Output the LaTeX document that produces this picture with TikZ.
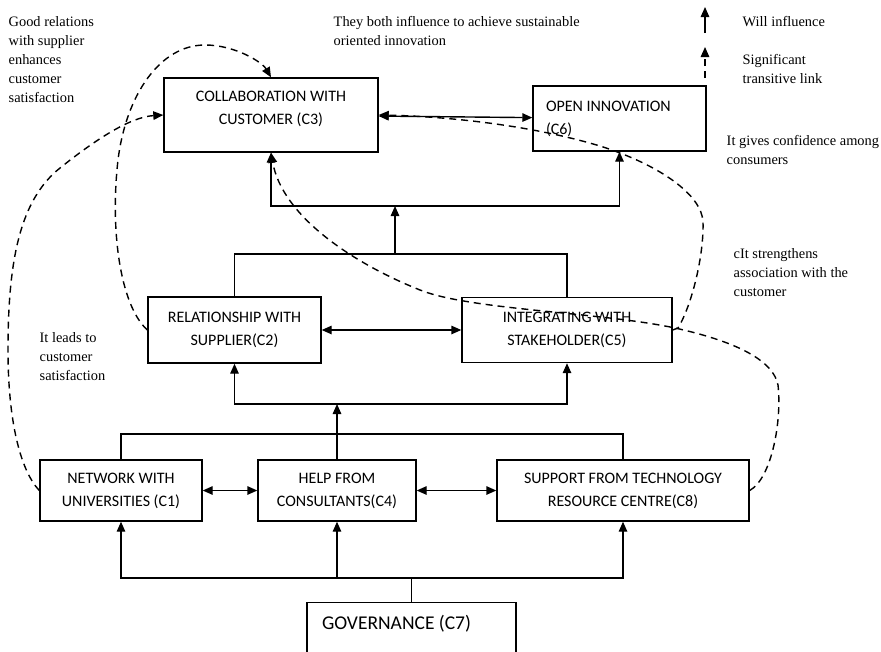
\documentclass[tikz,border=0pt]{standalone}
\usepackage{fontspec}
\setmainfont{Liberation Serif}
\newfontfamily\boxfont{Carlito}
\usetikzlibrary{arrows.meta}

\begin{document}
\begin{tikzpicture}[x=1pt,y=-1pt,line width=1.4pt,
    box/.style={draw,rectangle,inner sep=0pt,align=center,
      font=\boxfont\fontsize{16}{23}\selectfont},
    note/.style={anchor=north west,inner sep=0pt,align=left,
      font=\fontsize{14.4}{19}\selectfont},
    inf/.style={-{Triangle[length=10pt,width=8.5pt]}},
    both/.style={{Triangle[length=10pt,width=8.5pt]}-{Triangle[length=10pt,width=8.5pt]}},
    trans/.style={inf,dash pattern=on 7pt off 5pt}]
  \useasboundingbox (0,0) rectangle (881,651);
  \clip (0,0) rectangle (881,651);

  % concepts
  \node[box,minimum width=214pt,minimum height=74pt,text height=35pt,text depth=17pt] (c3) at (271,115) {COLLABORATION WITH\\CUSTOMER (C3)};
  \node[box,minimum width=173pt,minimum height=65pt,text width=147pt,inner xsep=13pt,align=flush left] (c6) at (619.5,118.5) {OPEN INNOVATION\\(C6)};
  \node[box,minimum width=173pt,minimum height=66pt] (c2) at (234.5,330) {RELATIONSHIP WITH\\SUPPLIER(C2)};
  \node[box,minimum width=210pt,minimum height=65pt] (c5) at (567,330) {INTEGRATING WITH\\STAKEHOLDER(C5)};
  \node[box,minimum width=162pt,minimum height=61pt] (c1) at (121,490.5) {NETWORK WITH\\UNIVERSITIES (C1)};
  \node[box,minimum width=158pt,minimum height=61pt] (c4) at (337,490.5) {HELP FROM\\CONSULTANTS(C4)};
  \node[box,minimum width=252pt,minimum height=61pt] (c8) at (623,490.5) {SUPPORT FROM TECHNOLOGY\\RESOURCE CENTRE(C8)};
  \node[box,anchor=north,text width=179pt,inner xsep=15pt,inner ysep=14pt,align=flush left,
    text height=13pt,text depth=40pt,font=\boxfont\fontsize{19.5}{23}\selectfont] (c7) at (411.5,602) {GOVERNANCE (C7)};

  % joints
  \coordinate (j1) at (395,206);
  \coordinate (j2) at (395,254);
  \coordinate (j3) at (337,404);
  \coordinate (j4) at (337,434);
  \coordinate (j5) at (411.5,578);

  % will influence
  \draw (c7.north) -- (j5);
  \draw[inf] (j5) -| (c1.south);
  \draw[inf] (j5) -| (c8.south);
  \draw[inf] (c4.south |- j5) -- (c4.south);
  \draw (c1.north) |- (j4) -| (c8.north);
  \draw (c4.north) -- (j4);
  \draw[inf] (j4) -- (j3);
  \draw[inf] (j3) -| (c2.south);
  \draw[inf] (j3) -| (c5.south);
  \draw (c2.north) |- (j2) -| (c5.north);
  \draw[inf] (j2) -- (j1);
  \draw[inf] (j1) -| (c3.south);
  \draw[inf] (j1) -| (c6.south);
  \draw[both] (c1) -- (c4);
  \draw[both] (c4) -- (c8);
  \draw[both] (c2) -- (c5);
  \draw[both] (c3) -- (c6);

  % transitive links
  \draw[trans] (c2.west) .. controls (120,305) and (110,230) .. (118,160)
    .. controls (126,95) and (160,45) .. (205,45)
    .. controls (235,45) and (262,62) .. (c3.north);
  \draw[trans] (c1.west) .. controls (20,470) and (8,420) .. (8,350)
    .. controls (8,260) and (20,200) .. (60,168)
    .. controls (95,140) and (130,117) .. (c3.west);
  \draw[trans] (c8.east) .. controls (772,478) and (782,420) .. (778,385)
    .. controls (772,355) and (720,338) .. (675,328)
    .. controls (600,312) and (470,310) .. (420,290)
    .. controls (350,262) and (282,215) .. (c3.south);
  \draw[trans] (c5.east) -- (678,328) .. controls (692,305) and (704,255) .. (703,222)
    .. controls (702,195) and (660,165) .. (600,146)
    .. controls (520,122) and (430,116) .. (c3.east);

  % legend
  \coordinate (l1a) at (705,33);
  \coordinate (l1b) at (705,7);
  \coordinate (l2a) at (705,78);
  \coordinate (l2b) at (705,47);
  \draw[inf] (l1a) -- (l1b);
  \draw[trans] (l2a) -- (l2b);

  % notes
  \node[note] (n1) at (8,16) {Good relations\\with supplier\\enhances\\customer\\satisfaction};
  \node[note] (n2) at (333,16) {They both influence to achieve sustainable\\oriented innovation};
  \node[note] (n3) at (742,16) {Will influence};
  \node[note] (n4) at (742,54) {Significant\\transitive link};
  \node[note] (n5) at (726,135) {It gives confidence among\\consumers};
  \node[note] (n6) at (733,248) {cIt strengthens\\association with the\\customer};
  \node[note] (n7) at (39,332) {It leads to\\customer\\satisfaction};
\end{tikzpicture}
\end{document}
